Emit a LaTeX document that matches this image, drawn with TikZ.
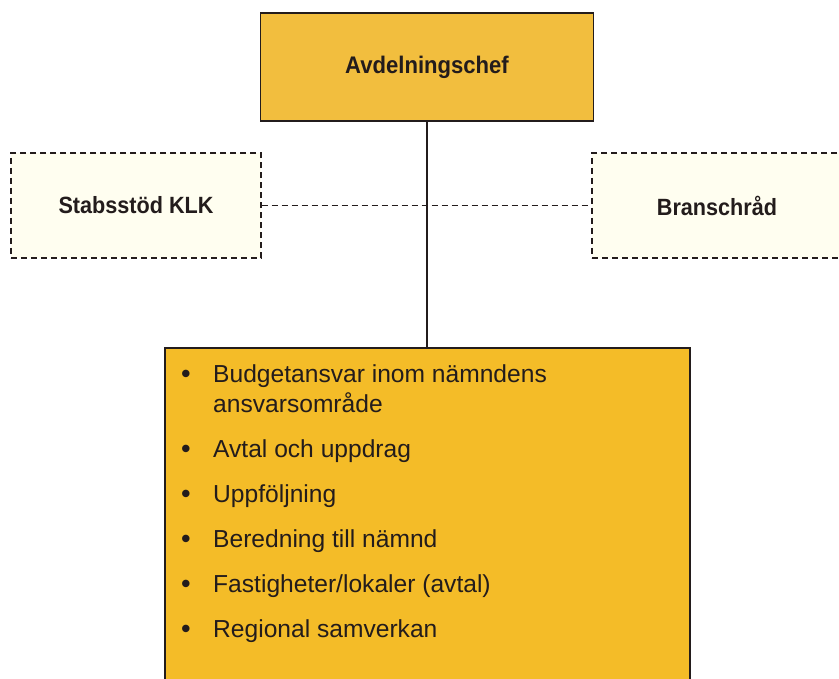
\documentclass[tikz,border=0pt]{standalone}
\usepackage{fontspec}
\setmainfont{Liberation Sans}
\newfontfamily\headfont{Liberation Sans Bold}[FakeStretch=0.92]
\definecolor{gold}{RGB}{242,190,62}
\definecolor{goldb}{RGB}{244,188,40}
\definecolor{cream}{RGB}{255,254,240}
\definecolor{ink}{RGB}{35,28,28}
\begin{document}
\begin{tikzpicture}[x=1pt,y=-1pt,
  solidbox/.style={draw=ink,line width=1.5pt,inner sep=0pt},
  dashbox/.style={draw=ink,line width=1.4pt,dash pattern=on 6pt off 4pt,fill=cream,inner sep=0pt,
    minimum width=250pt,minimum height=105pt,font=\headfont\fontsize{23.5}{26}\selectfont,text=ink},
  link/.style={draw=ink,line width=1.4pt},
  dashlink/.style={draw=ink,line width=1.4pt,dash pattern=on 6pt off 4pt},
  item/.style={anchor=base west,inner sep=0pt,font=\fontsize{24.6}{28}\selectfont,text=ink},
  bul/.style={anchor=base,inner sep=0pt,font=\bfseries\fontsize{26}{28}\selectfont,text=ink}]
\useasboundingbox (0,0) rectangle (839,679);
\fill[white] (0,0) rectangle (839,679);
% boxes
\node[solidbox,fill=gold,minimum width=333pt,minimum height=108pt,
  font=\headfont\fontsize{24}{28}\selectfont,text=ink] (top) at (427,67) {Avdelningschef};
\node[dashbox] (left) at (136,205.5) {Stabsstöd KLK};
\node[dashbox] (right) at (717,205.5) {Branschråd};
\node[solidbox,fill=goldb,minimum width=525pt,minimum height=360pt] (low) at (427.5,528) {};
% connectors
\draw[link] (top.south) -- (top.south |- low.north);
\draw[dashlink] (left.east) -- (right.west);
% list
\node[bul] (b1) at (186,382) {•};
\node[item] (t1) at (213,382) {Budgetansvar inom nämndens};
\node[item] (t1b) at (213,412) {ansvarsområde};
\node[bul] (b2) at (186,457) {•};
\node[item] (t2) at (213,457) {Avtal och uppdrag};
\node[bul] (b3) at (186,502) {•};
\node[item] (t3) at (213,502) {Uppföljning};
\node[bul] (b4) at (186,547) {•};
\node[item] (t4) at (213,547) {Beredning till nämnd};
\node[bul] (b5) at (186,592) {•};
\node[item] (t5) at (213,592) {Fastigheter/lokaler (avtal)};
\node[bul] (b6) at (186,637) {•};
\node[item] (t6) at (213,637) {Regional samverkan};
\end{tikzpicture}
\end{document}
